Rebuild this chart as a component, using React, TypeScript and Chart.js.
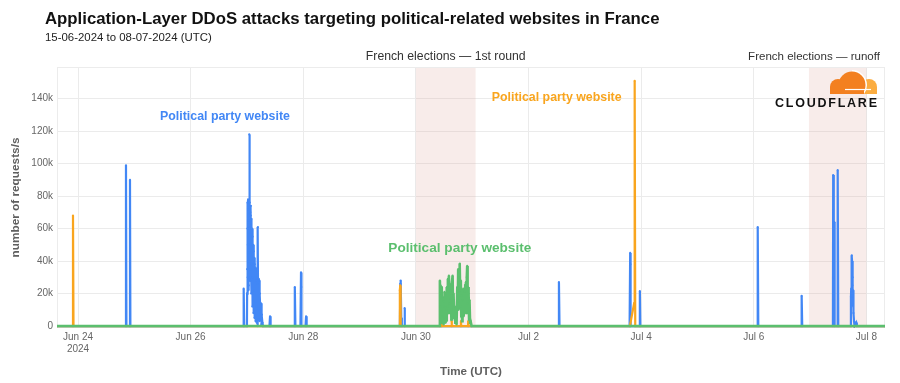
import React, { useEffect, useRef } from "react";
import { Chart, registerables } from "chart.js";

Chart.register(...registerables);

const FONT = "'Liberation Sans', Arial, Helvetica, sans-serif";

// x values are days measured from Jun 24 2024 00:00 UTC
const X_MIN = -0.373;
const X_MAX = 14.33;
const tickDays = [0, 2, 4, 6, 8, 10, 12, 14];
const tickLabels = [["Jun 24", "2024"], ["Jun 26"], ["Jun 28"], ["Jun 30"], ["Jul 2"], ["Jul 4"], ["Jul 6"], ["Jul 8"]];
const yTicks = [0, 20000, 40000, 60000, 80000, 100000, 120000, 140000];
const yTickLabels = ["0", "20k", "40k", "60k", "80k", "100k", "120k", "140k"];

const blueDays = [
  -0.373, 0.84, 0.852, 0.86, 0.915, 0.923, 0.93, 2.935, 2.942, 2.95,
  3.0, 3.003, 3.005, 3.008, 3.01, 3.013, 3.015, 3.018, 3.02, 3.023, 3.025, 3.028, 3.03, 3.033, 3.035, 3.038,
  3.041, 3.044, 3.046, 3.048, 3.05, 3.053, 3.055, 3.058, 3.06, 3.063, 3.065, 3.068, 3.07, 3.073, 3.075,
  3.08, 3.085, 3.09, 3.095, 3.1, 3.105, 3.11, 3.115, 3.12, 3.125, 3.13, 3.135, 3.14, 3.145, 3.15, 3.155,
  3.16, 3.165, 3.17, 3.175, 3.18, 3.185, 3.195, 3.2, 3.21, 3.215, 3.22, 3.225, 3.23, 3.24, 3.25, 3.255,
  3.265, 3.275, 3.285,
  3.4, 3.41, 3.42, 3.84, 3.85, 3.86, 3.95, 3.96, 3.965, 3.97, 4.04, 4.05, 4.06,
  5.715, 5.725, 5.73, 5.74, 5.75, 5.795, 5.8, 5.805,
  8.53, 8.54, 8.55, 9.795, 9.805, 9.81, 9.815, 9.97, 9.977, 9.985,
  12.06, 12.07, 12.08, 12.84, 12.85, 12.86,
  13.405, 13.41, 13.42, 13.43, 13.435, 13.48, 13.49, 13.5,
  13.72, 13.725, 13.73, 13.735, 13.74, 13.745, 13.75, 13.755, 13.76, 13.765, 13.77, 13.78, 13.79, 13.82, 13.83,
  14.33,
];
const blueValues = [
  0, 0, 99000, 0, 0, 90000, 0, 0, 23000, 0,
  0, 20000, 35000, 60000, 76000, 30000, 50000, 72000, 78000, 40000, 22000, 65000, 77000, 25000, 40000, 70000,
  118000, 45000, 60000, 35000, 76000, 50000, 28000, 62000, 70000, 30000, 50000, 68000, 74000, 35000, 20000,
  66000, 38000, 60000, 12000, 55000, 30000, 50000, 8000, 46000, 22000, 42000, 5000, 38000, 15000, 36000, 3000,
  30000, 12000, 28000, 2000, 26000, 0, 61000, 4000, 29000, 10000, 28000, 3000, 20000, 8000, 14000, 1000,
  7000, 2000, 0,
  0, 6000, 0, 0, 24000, 0, 0, 33000, 24000, 0, 0, 6000, 0,
  0, 26000, 28000, 5000, 0, 0, 11000, 0,
  0, 27000, 0, 0, 45000, 38000, 0, 0, 21500, 0,
  0, 61000, 0, 0, 18600, 0,
  0, 93000, 30000, 64000, 0, 0, 96000, 0,
  0, 18000, 23000, 12000, 43500, 40000, 25000, 30000, 18000, 22000, 8000, 3000, 0, 2000, 0,
  0,
];

const orangeDays = [
  -0.373, -0.1, -0.089, -0.08,
  5.7, 5.715, 5.722, 5.73,
  6.45, 6.456, 6.46, 6.63, 6.634, 6.64, 6.795, 6.8, 6.805, 6.925, 6.93, 6.935,
  9.8, 9.875, 9.885, 9.895,
  14.33,
];
const orangeValues = [
  0, 0, 68000, 0,
  0, 22000, 25000, 0,
  0, 3000, 0, 0, 3000, 0, 0, 3000, 0, 0, 3000, 0,
  0, 14000, 151000, 0,
  0,
];

const greenDays = [
  -0.373, 6.42, 6.426, 6.432, 6.438, 6.444, 6.45, 6.456, 6.462, 6.468, 6.474, 6.48, 6.486, 6.492, 6.5,
  6.508, 6.514, 6.52, 6.528, 6.536, 6.544, 6.552, 6.56, 6.568, 6.576, 6.586, 6.594, 6.602, 6.61, 6.622,
  6.63, 6.64, 6.652, 6.66, 6.668, 6.68, 6.693, 6.7, 6.712, 6.722, 6.735, 6.744, 6.751, 6.758, 6.766,
  6.774, 6.781, 6.79, 6.798, 6.806, 6.812, 6.82, 6.828, 6.84, 6.848, 6.858, 6.866, 6.876, 6.888, 6.896,
  6.904, 6.911, 6.918, 6.926, 6.936, 6.944, 6.952, 6.962, 6.971, 6.989, 14.33,
];
const greenValues = [
  0, 0, 28000, 12000, 25000, 3000, 20000, 9000, 24000, 2000, 18000, 6000, 15000, 1000, 12000,
  21000, 5000, 19000, 2000, 10000, 3000, 24000, 12000, 29000, 8000, 31000, 14000, 26000, 17000, 22000,
  4000, 27000, 31000, 10000, 20000, 5000, 12000, 2000, 8000, 1000, 24000, 15000, 35000, 10000, 30000,
  22000, 38500, 12000, 28000, 6000, 19000, 3000, 16000, 23000, 6000, 21000, 9000, 25000, 27000, 8000,
  30000, 37000, 14000, 24000, 20000, 4000, 16000, 2000, 3000, 0, 0,
];

const BLUE = "#4287F5";
const ORANGE = "#F9A51E";
const GREEN = "#5BBF6E";

const shadeStarts = [6.0, 12.98];
const shadeEnds = [7.06, 14.0];
const shadeLabels = ["French elections — 1st round", "French elections — runoff"];

const annotationTexts = ["Political party website", "Political party website", "Political party website"];
const annotationDays = [2.61, 8.5, 6.78];
const annotationValues = [128700, 140400, 48000];
const annotationColors = [BLUE, ORANGE, GREEN];
const annotationWidths = [130, 130, 143];

function fitFont(ctx: CanvasRenderingContext2D, text: string, weight: string, width: number) {
  ctx.font = `${weight} 100px ${FONT}`;
  const w = ctx.measureText(text).width;
  const size = (100 * width) / w;
  ctx.font = `${weight} ${size}px ${FONT}`;
  return size;
}

const overlayPlugin = {
  id: "overlay",
  beforeDatasetsDraw(chart: any) {
    const { ctx, chartArea } = chart;
    const xs = chart.scales.x;
    ctx.save();
    ctx.fillStyle = "rgba(222,160,150,0.2)";
    for (let i = 0; i < shadeStarts.length; i++) {
      const x0 = xs.getPixelForValue(shadeStarts[i]);
      const x1 = xs.getPixelForValue(shadeEnds[i]);
      ctx.fillRect(x0, chartArea.top, x1 - x0, chartArea.bottom - chartArea.top);
    }
    ctx.strokeStyle = "#ececec";
    ctx.lineWidth = 1;
    ctx.strokeRect(chartArea.left + 0.5, chartArea.top + 0.5, chartArea.right - chartArea.left - 1, chartArea.bottom - chartArea.top - 1);
    ctx.restore();
  },
  afterDatasetsDraw(chart: any) {
    const { ctx } = chart;
    const xs = chart.scales.x;
    const ys = chart.scales.y;
    ctx.save();
    ctx.textAlign = "center";
    ctx.textBaseline = "middle";
    for (let i = 0; i < annotationTexts.length; i++) {
      fitFont(ctx, annotationTexts[i], "bold", annotationWidths[i]);
      ctx.fillStyle = annotationColors[i];
      ctx.fillText(annotationTexts[i], xs.getPixelForValue(annotationDays[i]), ys.getPixelForValue(annotationValues[i]));
    }
    ctx.restore();
  },
  afterDraw(chart: any) {
    const { ctx, chartArea } = chart;
    const xs = chart.scales.x;
    ctx.save();
    // title
    ctx.textAlign = "left";
    ctx.textBaseline = "alphabetic";
    ctx.fillStyle = "#111";
    fitFont(ctx, "Application-Layer DDoS attacks targeting political-related websites in France", "bold", 615);
    ctx.fillText("Application-Layer DDoS attacks targeting political-related websites in France", 45, 24);
    ctx.fillStyle = "#222";
    fitFont(ctx, "15-06-2024 to 08-07-2024 (UTC)", "normal", 167);
    ctx.fillText("15-06-2024 to 08-07-2024 (UTC)", 45, 41);

    // election labels
    ctx.textAlign = "center";
    ctx.fillStyle = "#333";
    const labelWidths = [160, 132];
    for (let i = 0; i < shadeLabels.length; i++) {
      fitFont(ctx, shadeLabels[i], "normal", labelWidths[i]);
      let cx = (xs.getPixelForValue(shadeStarts[i]) + xs.getPixelForValue(shadeEnds[i])) / 2;
      const half = labelWidths[i] / 2;
      if (cx + half > chartArea.right - 5) cx = chartArea.right - 5 - half;
      ctx.fillText(shadeLabels[i], cx, chartArea.top - 7);
    }

    // axis titles
    ctx.fillStyle = "#5f5f5f";
    fitFont(ctx, "Time (UTC)", "bold", 62);
    ctx.fillText("Time (UTC)", (chartArea.left + chartArea.right) / 2, 375);
    ctx.save();
    ctx.translate(16, (chartArea.top + chartArea.bottom) / 2);
    ctx.rotate(-Math.PI / 2);
    ctx.textBaseline = "middle";
    fitFont(ctx, "number of requests/s", "bold", 120);
    ctx.fillText("number of requests/s", 0, 0);
    ctx.restore();

    // Cloudflare logo
    const ox = chartArea.right - 8;
    const oy = chartArea.top + 5;
    ctx.save();
    ctx.beginPath();
    ctx.rect(ox - 60, oy - 5, 75, 27);
    ctx.clip();
    ctx.fillStyle = "#FBAD41";
    ctx.beginPath();
    ctx.arc(ox - 8, oy + 15, 8, 0, Math.PI * 2);
    ctx.fill();
    ctx.fillRect(ox - 16, oy + 15, 16, 7);
    ctx.strokeStyle = "#fff";
    ctx.lineWidth = 3;
    ctx.beginPath();
    ctx.arc(ox - 25, oy + 13, 13.5, -Math.PI / 2, Math.PI / 2);
    ctx.stroke();
    ctx.fillStyle = "#F38020";
    ctx.beginPath();
    ctx.arc(ox - 25, oy + 13, 13.5, 0, Math.PI * 2);
    ctx.fill();
    ctx.beginPath();
    ctx.arc(ox - 39, oy + 15, 8, 0, Math.PI * 2);
    ctx.fill();
    ctx.fillRect(ox - 47, oy + 15, 34, 7);
    ctx.strokeStyle = "#fff";
    ctx.lineWidth = 1.2;
    ctx.beginPath();
    ctx.moveTo(ox - 32, oy + 17.5);
    ctx.lineTo(ox - 6, oy + 17.5);
    ctx.stroke();
    ctx.restore();

    const word = "CLOUDFLARE";
    ctx.font = `bold 12.5px ${FONT}`;
    ctx.fillStyle = "#111";
    ctx.textAlign = "left";
    ctx.textBaseline = "alphabetic";
    let sum = 0;
    for (const ch of word) sum += ctx.measureText(ch).width;
    const spacing = (102 - sum) / (word.length - 1);
    let px = ox - 102;
    for (const ch of word) {
      ctx.fillText(ch, px, oy + 35);
      px += ctx.measureText(ch).width + spacing;
    }
    ctx.restore();
  },
};

function toPoints(days: number[], values: number[]) {
  return days.map((d, i) => ({ x: d, y: values[i] }));
}

export default function App() {
  const ref = useRef<HTMLCanvasElement | null>(null);
  useEffect(() => {
    if (!ref.current) return;
    const mk = (data: any, color: string, width: number) => ({
      data,
      borderColor: color,
      backgroundColor: color,
      borderWidth: width,
      pointRadius: 1.1,
      pointHoverRadius: 0,
      pointBorderWidth: 0,
      tension: 0,
      fill: false,
    });
    const chart = new Chart(ref.current, {
      type: "line",
      data: {
        datasets: [
          mk(toPoints(greenDays, greenValues), GREEN, 2.6),
          mk(toPoints(orangeDays, orangeValues), ORANGE, 2.2),
          mk(toPoints(blueDays, blueValues), BLUE, 2.2),
        ] as any,
      },
      options: {
        responsive: false,
        animation: false,
        layout: { padding: { left: 0, right: 15, top: 67, bottom: 0 } },
        plugins: { legend: { display: false }, tooltip: { enabled: false }, title: { display: false } },
        scales: {
          x: {
            type: "linear",
            min: X_MIN,
            max: X_MAX,
            afterBuildTicks: (s: any) => {
              s.ticks = tickDays.map((v) => ({ value: v }));
            },
            afterFit: (s: any) => {
              s.height = 55;
            },
            ticks: {
              callback: (v: any) => {
                const i = tickDays.indexOf(Number(v));
                return i >= 0 ? tickLabels[i] : "";
              },
              color: "#666",
              font: { family: FONT, size: 10, lineHeight: 1.2 },
              padding: 3,
              maxRotation: 0,
              autoSkip: false,
            },
            grid: { color: "#ebebeb", drawTicks: false },
            border: { display: false },
          },
          y: {
            type: "linear",
            min: -1200,
            max: 159500,
            afterBuildTicks: (s: any) => {
              s.ticks = yTicks.map((v) => ({ value: v }));
            },
            afterFit: (s: any) => {
              s.width = 57;
            },
            ticks: {
              callback: (v: any) => {
                const i = yTicks.indexOf(Number(v));
                return i >= 0 ? yTickLabels[i] : "";
              },
              color: "#666",
              font: { family: FONT, size: 10 },
              padding: 4,
            },
            grid: { color: "#ebebeb", drawTicks: false },
            border: { display: false },
          },
        },
      } as any,
      plugins: [overlayPlugin as any],
    });
    return () => chart.destroy();
  }, []);
  return (
    <div style={{ position: "absolute", left: 0, top: 0, width: 900, height: 383, background: "#fff" }}>
      <canvas ref={ref} width={900} height={383} style={{ width: 900, height: 383, display: "block" }} />
    </div>
  );
}
